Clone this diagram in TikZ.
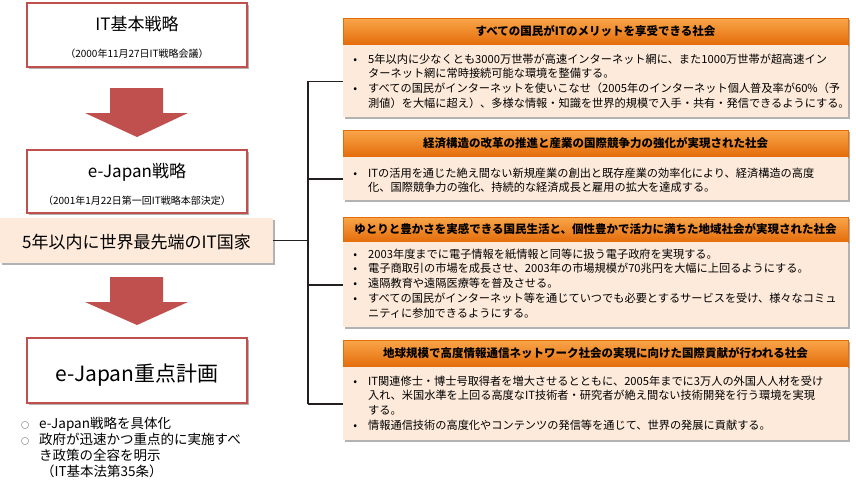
\documentclass[tikz,border=0pt]{standalone}
\usepackage{fontspec}
\setmainfont{Noto Sans CJK JP}
\usetikzlibrary{shadows}
\definecolor{boxred}{HTML}{C0504D}
\definecolor{peach}{HTML}{FDEADA}
\definecolor{orgtop}{HTML}{F9A64A}
\definecolor{orgbot}{HTML}{E46C0A}
\definecolor{conncol}{HTML}{231F20}
\newcommand\bul{\makebox[8pt]{•}}
\newcommand\wbul{\makebox[8pt]{\fontsize{8}{8}\selectfont ○}}
\tikzset{
 shd/.style={drop shadow={shadow xshift=2pt, shadow yshift=-2pt, opacity=.3, fill=black}},
 redbox/.style={draw=boxred, line width=1.8pt, fill=white, shd, inner sep=0pt, minimum width=220pt},
 goalbox/.style={fill=peach, shd, inner sep=0pt, minimum width=273pt, minimum height=45pt},
 head/.style={draw=orgbot, line width=0.4pt, top color=orgtop, bottom color=orgbot, shd, minimum width=505pt, inner sep=0pt},
 body/.style={fill=peach, shd, minimum width=505pt, inner sep=0pt},
 bigarrow/.style={fill=boxred, draw=none},
 conn/.style={draw=conncol, line width=1.4pt},
 ttl/.style={inner sep=0pt, font=\fontsize{17}{19}\selectfont},
 subt/.style={inner sep=0pt, font=\fontsize{10}{12}\selectfont},
 htext/.style={inner sep=0pt, font=\bfseries\fontsize{11.5}{13}\selectfont},
 btext/.style={anchor=base west, inner sep=0pt, font=\fontsize{11.2}{14.8}\selectfont},
}
\begin{document}
\begin{tikzpicture}[x=1pt, y=-1pt]
\useasboundingbox (0,0) rectangle (856,479);

% left column
\node[redbox, minimum height=64pt] (A) at (137,35) {};
\node[ttl] (At) at (137,24) {IT基本戦略};
\node[subt] (As) at (137,54) {（2000年11月27日IT戦略会議）};

\draw[bigarrow] (110,88) -- (163,88) -- (163,113) -- (188,113) -- (137,137) -- (85,113) -- (110,113) -- cycle;

\node[redbox, minimum height=63pt] (B) at (137,181.5) {};
\node[ttl] (Bt) at (137,172) {e-Japan戦略};
\node[subt] (Bs) at (137,201) {（2001年1月22日第一回IT戦略本部決定）};

\node[goalbox] (goal) at (136.5,240.5) {};
\node[ttl] (goalt) at (136.5,242) {5年以内に世界最先端のIT国家};

\draw[bigarrow] (110,277) -- (163,277) -- (163,302) -- (188,302) -- (137,325) -- (85,302) -- (110,302) -- cycle;

\node[redbox, minimum height=65pt] (C) at (137,370.5) {};
\node[inner sep=0pt, font=\fontsize{21}{23}\selectfont] (Ct) at (137,375) {e-Japan重点計画};

\node[anchor=base west, inner sep=0pt, font=\fontsize{13.5}{15.7}\selectfont] (notes) at (21,428)
 {\begin{tabular}[t]{@{}l@{\hspace{10pt}}l@{}}
 \wbul & e-Japan戦略を具体化\\
 \wbul & 政府が迅速かつ重点的に実施すべ\\
 & き政策の全容を明示\\
 & \hspace*{2pt}（IT基本法第35条）
 \end{tabular}};

% right panels
\node[head, minimum height=27pt] (h1) at (595.5,31.5) {};
\node[body, minimum height=72pt, anchor=north] (p1) at (h1.south) {};
\node[htext] (h1t) at (h1.center) {すべての国民がITのメリットを享受できる社会};
\node[btext] (p1t) at (351,63)
 {\begin{tabular}[t]{@{}l@{\hspace{9pt}}l@{}}
 \bul & 5年以内に少なくとも3000万世帯が高速インターネット網に、また1000万世帯が超高速イン\\
 & ターネット網に常時接続可能な環境を整備する。\\
 \bul & すべての国民がインターネットを使いこなせ（2005年のインターネット個人普及率が60\%（予\\
 & 測値）を大幅に超え）、多様な情報・知識を世界的規模で入手・共有・発信できるようにする。
 \end{tabular}};

\node[head, minimum height=27pt] (h2) at (595.5,143.5) {};
\node[body, minimum height=43pt, anchor=north] (p2) at (h2.south) {};
\node[htext] (h2t) at (h2.center) {経済構造の改革の推進と産業の国際競争力の強化が実現された社会};
\node[btext] (p2t) at (351,177)
 {\begin{tabular}[t]{@{}l@{\hspace{9pt}}l@{}}
 \bul & ITの活用を通じた絶え間ない新規産業の創出と既存産業の効率化により、経済構造の高度\\
 & 化、国際競争力の強化、持続的な経済成長と雇用の拡大を達成する。
 \end{tabular}};

\node[head, minimum height=25pt] (h3) at (595.5,229.5) {};
\node[body, minimum height=85pt, anchor=north] (p3) at (h3.south) {};
\node[htext] (h3t) at (h3.center) {ゆとりと豊かさを実感できる国民生活と、個性豊かで活力に満ちた地域社会が実現された社会};
\node[btext] (p3t) at (351,258)
 {\begin{tabular}[t]{@{}l@{\hspace{9pt}}l@{}}
 \bul & 2003年度までに電子情報を紙情報と同等に扱う電子政府を実現する。\\
 \bul & 電子商取引の市場を成長させ、2003年の市場規模が70兆円を大幅に上回るようにする。\\
 \bul & 遠隔教育や遠隔医療等を普及させる。\\
 \bul & すべての国民がインターネット等を通じていつでも必要とするサービスを受け、様々なコミュ\\
 & ニティに参加できるようにする。
 \end{tabular}};

\node[head, minimum height=27pt] (h4) at (595.5,353.5) {};
\node[body, minimum height=73pt, anchor=north] (p4) at (h4.south) {};
\node[htext] (h4t) at (h4.center) {地球規模で高度情報通信ネットワーク社会の実現に向けた国際貢献が行われる社会};
\node[btext] (p4t) at (351,385)
 {\begin{tabular}[t]{@{}l@{\hspace{9pt}}l@{}}
 \bul & IT関連修士・博士号取得者を増大させるとともに、2005年までに3万人の外国人人材を受け\\
 & 入れ、米国水準を上回る高度なIT技術者・研究者が絶え間ない技術開発を行う環境を実現\\
 & する。\\
 \bul & 情報通信技術の高度化やコンテンツの発信等を通じて、世界の発展に貢献する。
 \end{tabular}};

% connectors
\coordinate (spine) at (308,0);
\draw[conn] (goal.east) -- (goal.east -| spine);
\draw[conn] (p1.west -| spine) -- (p4.west -| spine);
\draw[conn] (p1.west -| spine) -- (p1.west);
\draw[conn] (p2.west -| spine) -- (p2.west);
\draw[conn] (p3.west -| spine) -- (p3.west);
\draw[conn] (p4.west -| spine) -- (p4.west);
\end{tikzpicture}
\end{document}
